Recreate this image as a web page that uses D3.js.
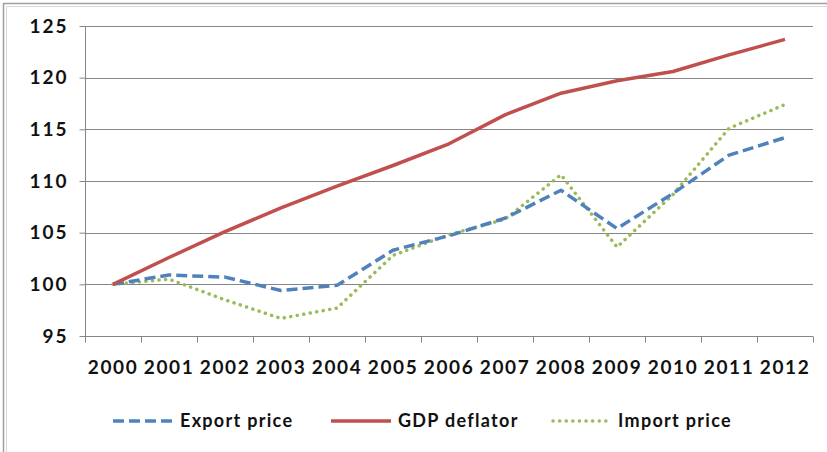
<!DOCTYPE html>
<html><head><meta charset="utf-8">
<script src="https://cdn.jsdelivr.net/npm/d3@7"></script>
<style>
html,body{margin:0;padding:0;background:#fff;}
text{font-family:Lato,"Open Sans",sans-serif;font-weight:bold;fill:#111;}
</style></head>
<body><svg id="c" width="827" height="452"></svg>
<script>
const years = ["2000","2001","2002","2003","2004","2005","2006","2007","2008","2009","2010","2011","2012"];
const exportPrice = [100,100.9,100.7,99.4,99.9,103.3,104.7,106.4,109.1,105.4,108.8,112.5,114.2];
const gdpDeflator = [100,102.6,105.1,107.4,109.5,111.5,113.6,116.4,118.5,119.7,120.6,122.2,123.7];
const importPrice = [100,100.5,98.5,96.7,97.7,102.8,104.8,106.3,110.6,103.6,108.7,115.1,117.4];
const yTicks = [95,100,105,110,115,120,125];

const svg = d3.select("#c");
const L = 85, R = 813, T = 26, B = 336;

// outer border (left and top)
svg.append("path").attr("d","M3.5,452V3.5H827").attr("fill","none").attr("stroke","#a0a0a0").attr("stroke-width",1.5);
svg.append("path").attr("d","M6.5,452V6.5H827").attr("fill","none").attr("stroke","#d8d8d8").attr("stroke-width",1);

const x = d3.scaleBand().domain(years).range([L,R]);
const y = d3.scaleLinear().domain([95,125]).range([B,T]);

// gridlines
svg.append("g").selectAll("line").data(yTicks.filter(v=>v>95)).join("line")
  .attr("x1",L).attr("x2",R).attr("y1",d=>Math.round(y(d))+0.5).attr("y2",d=>Math.round(y(d))+0.5)
  .attr("stroke","#868686").attr("stroke-width",1);

// y axis
const ya = svg.append("g").attr("transform",`translate(${L+0.5},0)`)
  .call(d3.axisLeft(y).tickValues(yTicks).tickSize(6).tickPadding(10));
ya.select(".domain").attr("stroke","#868686").attr("d",`M0,${T}V${B}`);
ya.selectAll(".tick line").attr("stroke","#868686");
ya.selectAll(".tick text").attr("font-size",19).attr("font-family","Lato").attr("font-weight","bold")
  .attr("fill","#111").attr("letter-spacing","2px").attr("dx",-1);

// x axis
const xa = svg.append("g").attr("transform",`translate(0,${Math.round(B)+0.5})`)
  .call(d3.axisBottom(x).tickSize(0).tickPadding(24));
xa.select(".domain").attr("stroke","#868686").attr("d",`M${L},0H${R}`);
xa.selectAll(".tick text").attr("font-size",19).attr("font-family","Lato").attr("font-weight","bold")
  .attr("fill","#111").attr("letter-spacing","1.6px");
// boundary ticks
const bounds = years.map(d=>x(d)).concat([R]);
xa.append("g").selectAll("line").data(bounds).join("line")
  .attr("x1",d=>Math.round(d)+0.5).attr("x2",d=>Math.round(d)+0.5).attr("y1",0).attr("y2",6)
  .attr("stroke","#868686");

const cx = d => x(d) + x.bandwidth()/2;
const line = d3.line().x((d,i)=>cx(years[i])).y(d=>y(d));

const series = [
  {name:"Export price", vals:exportPrice, color:"#4f81bd", dash:"11,5", cap:"butt"},
  {name:"GDP deflator", vals:gdpDeflator, color:"#c0504d", dash:null, cap:"butt"},
  {name:"Import price", vals:importPrice, color:"#9bbb59", dash:"0.1,6.5", cap:"round"}
];
const order = [2,0,1];
order.forEach(k=>{
  const s = series[k];
  svg.append("path").datum(s.vals).attr("d",line).attr("fill","none")
    .attr("stroke",s.color).attr("stroke-width",3.5)
    .attr("stroke-dasharray",s.dash).attr("stroke-linecap",s.cap).attr("stroke-linejoin","round");
});

// legend
const legX = [113, 331, 553];
const lg = svg.append("g");
series.forEach((s,i)=>{
  const g = lg.append("g").attr("transform",`translate(${legX[i]},421)`);
  g.append("line").attr("x1",0).attr("x2",i===2?55:60).attr("y1",0).attr("y2",0)
    .attr("stroke",s.color).attr("stroke-width",3.5).attr("stroke-dasharray",s.dash).attr("stroke-linecap",s.cap);
  g.append("text").attr("x",i===2?65:67).attr("y",0).attr("dy","0.35em").attr("font-size",18)
    .attr("letter-spacing","1.3px").text(s.name);
});
</script></body></html>
